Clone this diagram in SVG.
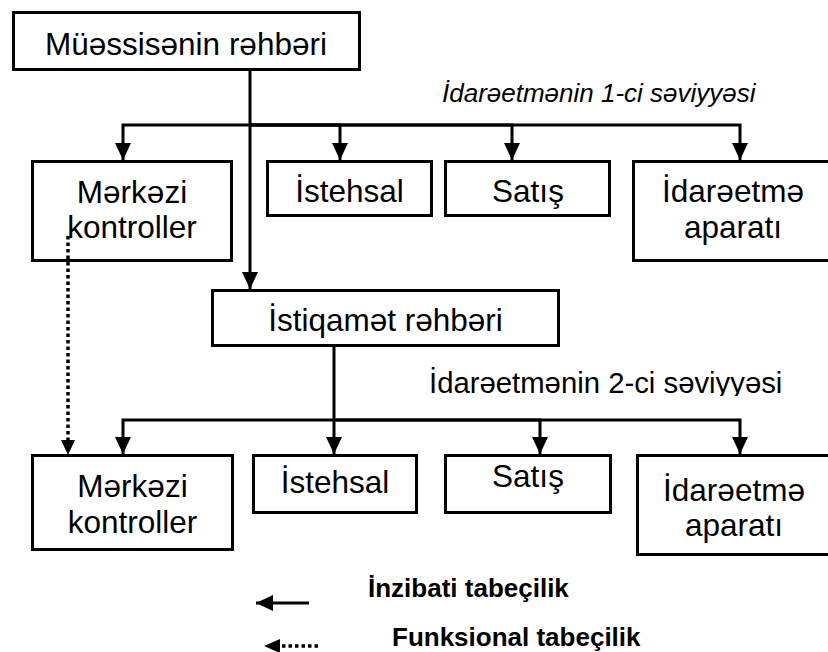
<svg xmlns="http://www.w3.org/2000/svg" width="828" height="652" viewBox="0 0 828 652">
<style>
.box{fill:#fff;stroke:#000;stroke-width:3}
.t{font-family:"Liberation Sans",Arial,sans-serif;font-size:31.5px;fill:#000;text-anchor:middle}
.lbl{font-family:"Liberation Sans",Arial,sans-serif;fill:#000}
.c{fill:none;stroke:#000;stroke-width:3;stroke-linejoin:miter}
.dot{fill:none;stroke:#000;stroke-width:3.5;stroke-dasharray:3.5 3}
</style>
<defs>
<marker id="ah" markerUnits="userSpaceOnUse" markerWidth="18" markerHeight="16" refX="17" refY="8" orient="auto">
<path d="M0,0 L17,8 L0,16 z" fill="#000"/>
</marker>
<clipPath id="clip2"><rect x="400" y="360" width="428" height="36"/></clipPath>
</defs>

<g id="n-top">
<rect class="box" x="13.5" y="12.5" width="346" height="57"/>
<text class="t" x="186" y="55">Müəssisənin rəhbəri</text>
</g>

<g id="label-1">
<text class="lbl" x="442" y="102" font-size="26" font-style="italic">İdarəetmənin 1-ci səviyyəsi</text>
</g>

<g id="n-l1-merkezi">
<rect class="box" x="32.5" y="161.5" width="199" height="99"/>
<text class="t" x="132" y="203">Mərkəzi</text>
<text class="t" x="132" y="238">kontroller</text>
</g>
<g id="n-l1-istehsal">
<rect class="box" x="267.5" y="161.5" width="164" height="54"/>
<text class="t" x="349.5" y="202">İstehsal</text>
</g>
<g id="n-l1-satis">
<rect class="box" x="445.5" y="161.5" width="164" height="54"/>
<text class="t" x="528" y="202">Satış</text>
</g>
<g id="n-l1-idare">
<rect class="box" x="633.5" y="161.5" width="200" height="99"/>
<text class="t" x="733" y="202">İdarəetmə</text>
<text class="t" x="733" y="238">aparatı</text>
</g>

<g id="n-istiqamet">
<rect class="box" x="212.5" y="290.5" width="346" height="55"/>
<text class="t" x="385.5" y="331">İstiqamət rəhbəri</text>
</g>

<g id="label-2">
<text class="lbl" x="429" y="393" font-size="29.3" clip-path="url(#clip2)">İdarəetmənin 2-ci səviyyəsi</text>
</g>

<g id="n-l2-merkezi">
<rect class="box" x="32.5" y="455.5" width="200" height="94"/>
<text class="t" x="132.5" y="497">Mərkəzi</text>
<text class="t" x="132.5" y="533">kontroller</text>
</g>
<g id="n-l2-istehsal">
<rect class="box" x="253.5" y="455.5" width="163" height="57"/>
<text class="t" x="335" y="493">İstehsal</text>
</g>
<g id="n-l2-satis">
<rect class="box" x="445.5" y="455.5" width="165" height="57"/>
<text class="t" x="528" y="487">Satış</text>
</g>
<g id="n-l2-idare">
<rect class="box" x="637.5" y="455.5" width="200" height="99"/>
<text class="t" x="734" y="501">İdarəetmə</text>
<text class="t" x="734" y="536">aparatı</text>
</g>

<g id="connectors">
<path class="c" d="M250,71 V289" marker-end="url(#ah)"/>
<path class="c" d="M250,125 H123 V160" marker-end="url(#ah)"/>
<path class="c" d="M250,125 H340 V160" marker-end="url(#ah)"/>
<path class="c" d="M250,125 H512 V160" marker-end="url(#ah)"/>
<path class="c" d="M250,125 H740 V160" marker-end="url(#ah)"/>
<path class="c" d="M334,347 V454" marker-end="url(#ah)"/>
<path class="c" d="M334,420 H123 V454" marker-end="url(#ah)"/>
<path class="c" d="M334,420 H540 V454" marker-end="url(#ah)"/>
<path class="c" d="M334,420 H740 V454" marker-end="url(#ah)"/>
<path class="dot" d="M68,236 V440"/>
<path d="M61,440 L68,455 L75,440 z" fill="#000"/>
</g>

<g id="legend">
<path class="c" d="M309,603 H256" marker-end="url(#ah)"/>
<text class="lbl" x="368" y="597" font-size="26" font-weight="bold">İnzibati tabeçilik</text>
<path class="dot" d="M318,646 H279"/>
<path d="M280,639 L264,646 L280,653 z" fill="#000"/>
<text class="lbl" x="392" y="646" font-size="26" font-weight="bold">Funksional tabeçilik</text>
</g>
</svg>
